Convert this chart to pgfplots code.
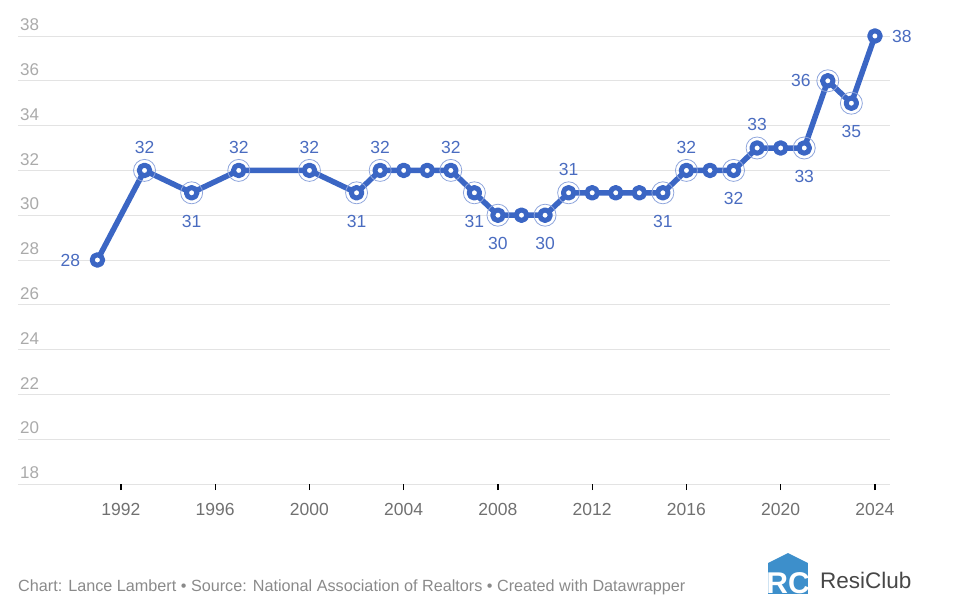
\documentclass[border=0pt]{standalone}
\usepackage{pgfplots}
\usepackage{pgfplotstable}
\pgfplotsset{compat=1.18}
\usepackage{fontspec}
\setmainfont{Liberation Sans}

\definecolor{lineblue}{HTML}{3B66C4}
\definecolor{labelblue}{HTML}{4A6CC0}
\definecolor{haloblue}{HTML}{8EA5DC}
\definecolor{gridgray}{HTML}{E3E3E3}
\definecolor{ylabgray}{HTML}{AAAAAA}
\definecolor{xlabgray}{HTML}{707070}
\definecolor{footgray}{HTML}{8A8A8A}
\definecolor{logoblue}{HTML}{3D8FCB}

% median age of first-time buyers
\pgfplotstableread{
year val
1991 28
1993 32
1995 31
1997 32
2000 32
2002 31
2003 32
2004 32
2005 32
2006 32
2007 31
2008 30
2009 30
2010 30
2011 31
2012 31
2013 31
2014 31
2015 31
2016 32
2017 32
2018 32
2019 33
2020 33
2021 33
2022 36
2023 35
2024 38
}\data

\begin{document}
\begin{tikzpicture}
\path[use as bounding box] (-18pt,-122pt) rectangle (942pt,484pt);
\begin{axis}[
    scale only axis, width=872pt, height=448pt,
    xmin=1987.63, xmax=2024.64,
    ymin=18, ymax=38,
    clip=false,
    axis line style={draw=none},
    ytick={18,20,...,38},
    xtick={1992,1996,...,2024},
    ymajorgrids=true,
    grid style={gridgray, line width=1pt},
    ytick style={draw=none},
    xtick pos=bottom,
    tick align=outside,
    major tick length=6pt,
    xtick style={black, line width=1.3pt},
    /pgf/number format/assume math mode=true,
    /pgf/number format/1000 sep={},
    yticklabel style={anchor=south west, inner sep=0pt, xshift=8pt, yshift=5pt,
        font=\fontsize{17}{17}\selectfont, text=ylabgray},
    xticklabel style={yshift=-10pt, font=\fontsize{17.5}{17.5}\selectfont, text=xlabgray},
    every node near coord/.append style={font=\fontsize{17.5}{17.5}\selectfont,
        text=labelblue, inner sep=0pt},
]
% halo rings on labelled points
\addplot[only marks, mark=o, mark size=11pt, mark options={draw=haloblue, line width=0.8pt}]
  coordinates {(1993,32)(1995,31)(1997,32)(2000,32)(2002,31)(2003,32)(2006,32)
    (2007,31)(2008,30)(2010,30)(2011,31)(2015,31)(2016,32)(2018,32)(2019,33)
    (2021,33)(2022,36)(2023,35)};
% main line
\addplot[lineblue, line width=5.5pt, line join=round,
    mark=*, mark size=5.3pt, mark options={fill=white, draw=lineblue, line width=5pt}]
  table[x=year, y=val] {\data};
% value labels
\addplot[only marks, mark=none, nodes near coords,
    nodes near coords align={anchor=south}, every node near coord/.append style={yshift=17pt}]
  coordinates {(1993,32)(1997,32)(2000,32)(2003,32)(2006,32)(2011,31)(2016,32)(2019,33)};
\addplot[only marks, mark=none, nodes near coords,
    nodes near coords align={anchor=north}, every node near coord/.append style={yshift=-22pt}]
  coordinates {(1995,31)(2002,31)(2007,31)(2008,30)(2010,30)(2015,31)(2018,32)(2021,33)(2023,35)};
\addplot[only marks, mark=none, nodes near coords,
    nodes near coords align={anchor=east}, every node near coord/.append style={xshift=-17pt}]
  coordinates {(1991,28)(2022,36)};
\addplot[only marks, mark=none, nodes near coords,
    nodes near coords align={anchor=west}, every node near coord/.append style={xshift=17pt}]
  coordinates {(2024,38)};
\end{axis}
\begin{scope}[x=1pt, y=1pt, shift={(-18pt,-122pt)}]
% footer
\node[anchor=base west, inner sep=0pt, text=footgray, font=\fontsize{16.2}{16.2}\selectfont]
  at (18,15) {Chart: Lance Lambert • Source: National Association of Realtors • Created with Datawrapper};
% ResiClub logo
\begin{scope}
  \clip (768,12) -- (768,43) -- (788,53) -- (808,43) -- (808,12) -- cycle;
  \fill[logoblue] (768,12) rectangle (808,53);
  \node[anchor=base, inner sep=0pt, text=white, font=\bfseries\fontsize{30}{30}\selectfont]
    at (788,13) {RC};
\end{scope}
\node[anchor=base west, inner sep=0pt, text=black!72, font=\fontsize{22.5}{22.5}\selectfont]
  at (820,18) {ResiClub};
\end{scope}
\end{tikzpicture}
\end{document}
